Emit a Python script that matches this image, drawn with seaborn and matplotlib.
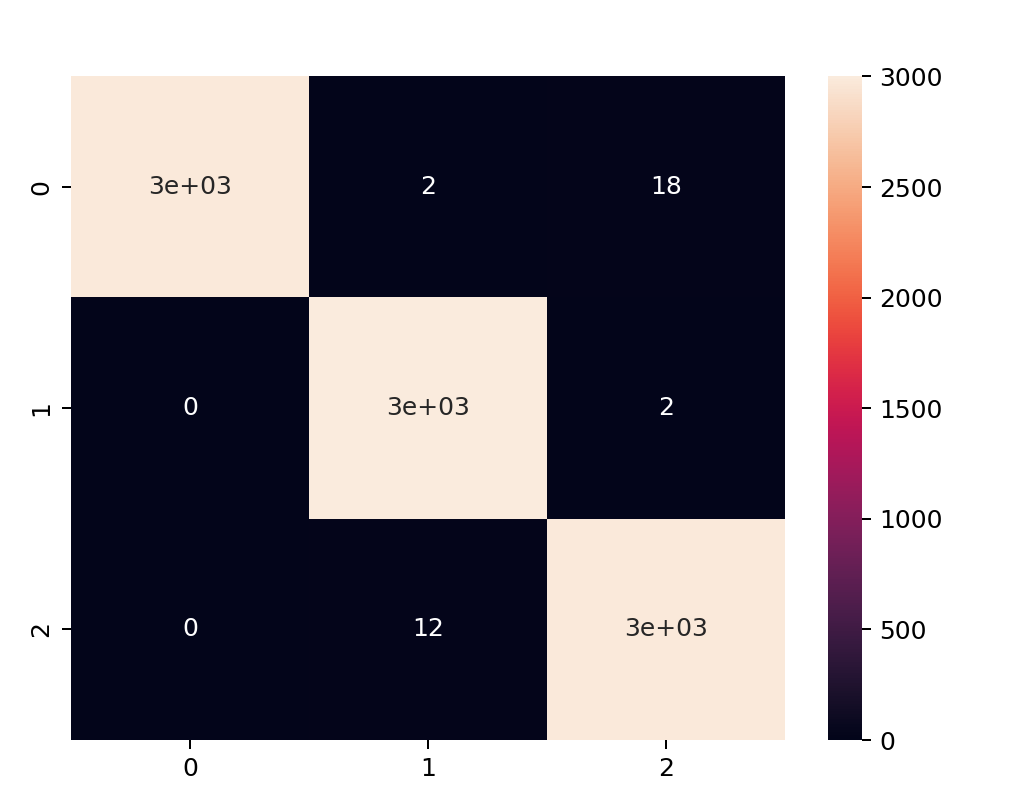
import numpy as np
import pandas as pd
import matplotlib
matplotlib.use("Agg")
import matplotlib.pyplot as plt
import seaborn as sns

# confusion matrix values (rows = true, cols = predicted)
labels = [0, 1, 2]
row0 = [2980, 2, 18]
row1 = [0, 3002, 2]
row2 = [0, 12, 2990]

cm = pd.DataFrame([row0, row1, row2], index=labels, columns=labels)

dpi = 180
fig = plt.figure(figsize=(1020 / dpi, 808 / dpi), dpi=dpi)
ax = fig.add_axes([71 / 1020, 1 - 740 / 808, 714 / 1020, 664 / 808])
cax = fig.add_axes([828 / 1020, 1 - 740 / 808, 34 / 1020, 664 / 808])

sns.heatmap(cm, annot=True, ax=ax, cbar_ax=cax)

fig.savefig("out.png", dpi=dpi)
